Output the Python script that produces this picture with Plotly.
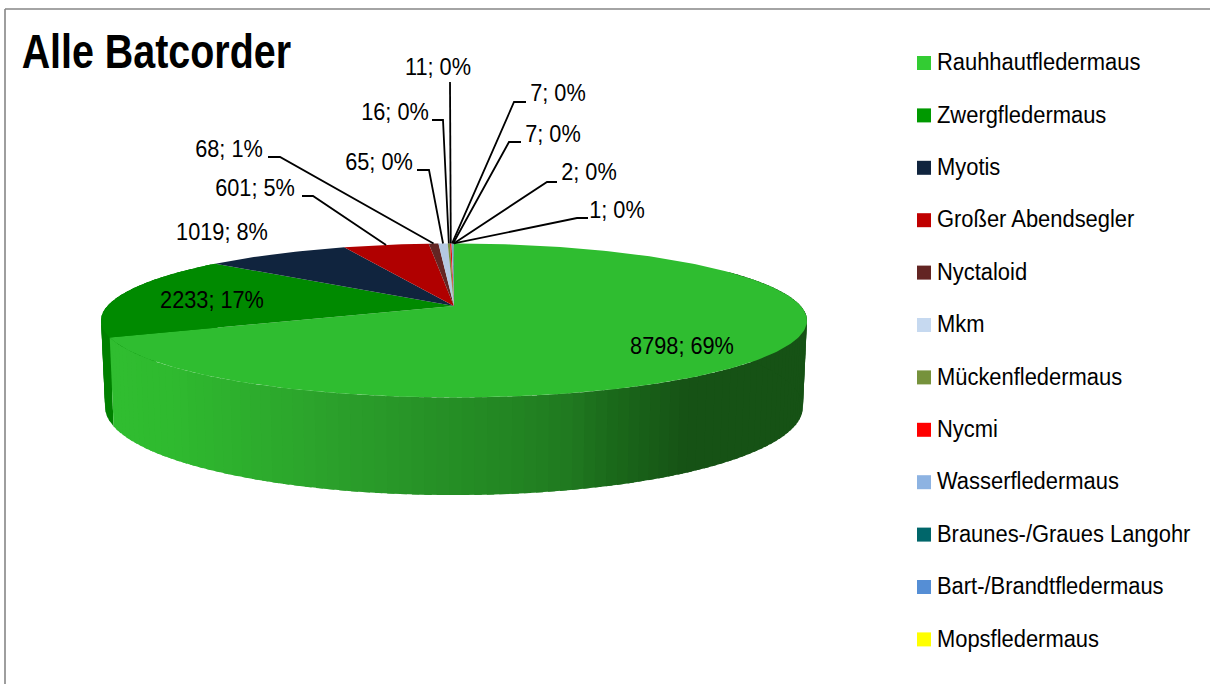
import math
import plotly.graph_objects as go

# ---- data -------------------------------------------------------------
species = ["Rauhhautfledermaus", "Zwergfledermaus", "Myotis", "Großer Abendsegler",
           "Nyctaloid", "Mkm", "Mückenfledermaus", "Nycmi", "Wasserfledermaus",
           "Braunes-/Graues Langohr", "Bart-/Brandtfledermaus", "Mopsfledermaus"]
counts = [8798, 2233, 1019, 601, 68, 65, 16, 11, 7, 7, 2, 1]
percent_labels = [69, 17, 8, 5, 1, 0, 0, 0, 0, 0, 0, 0]
top_colors = ["#2FBD30", "#008A00", "#10243E", "#B00000", "#632523", "#B4C8E2",
              "#76923C", "#E81010", "#8DB3E2", "#00666A", "#558ED5", "#FFFF00"]
legend_colors = ["#33CC33", "#009900", "#10243E", "#C00000", "#632523", "#C6D9F0",
                 "#76923C", "#FF0000", "#8DB3E2", "#00666A", "#558ED5", "#FFFF00"]
title_text = "Alle Batcorder"

# ---- layout constants (pixel space of the chart) ----------------------
W, H = 1210, 684
FONT = "Liberation Sans"
LABEL_SIZE = 24.5
APEX_X = 454
TOP = dict(y0=306, A=74.3, B=346.7, p=0.188)
BOTTOM = dict(y0=390.5, A=84.9, B=342.7, p=0.188)
LEGEND_X, LEGEND_Y0, LEGEND_STEP = 924, 63, 52.4
LEGEND_TEXT_X = 937
TEXT_DY = 2
LEGEND_TEXT_DY = 1
# placement of each data label: centre x, centre y
label_pos = [(682, 346), (212, 300), (222, 232), (255, 188), (229, 149), (379, 162),
             (395, 112), (438, 67), (558, 93), (553, 134), (589, 172), (617, 210)]
# leader lines for the small slices: elbow and end (None = no leader)
leader = [None, None, None,
          ((313, 196), (302, 196)), ((280, 157), (268, 157)), ((429, 170), (417, 170)),
          ((443, 120), (432, 120)), ((450, 82), (450, 82)), ((514, 102), (526, 102)),
          ((509, 142), (521, 142)), ((547, 182), (557, 182)), ((577, 218), (588, 218))]
# side shading of the large slice, pixel x -> colour
side_stops = [(100, (48, 190, 48)), (170, (47, 186, 47)), (300, (44, 166, 44)),
              (400, (40, 150, 40)), (500, (35, 136, 35)), (570, (32, 122, 32)),
              (620, (26, 104, 26)), (690, (22, 82, 21)), (810, (22, 82, 21))]


def project(theta_deg, d):
    t = math.radians(theta_deg)
    u, v = math.sin(t), math.cos(t)
    w = 1 + d["p"] * v
    return APEX_X + d["B"] * u / w, d["y0"] - d["A"] * v / w


def side_colour(x):
    for (x0, c0), (x1, c1) in zip(side_stops, side_stops[1:]):
        if x <= x1:
            f = max(0, (x - x0) / (x1 - x0))
            return "rgb(%d,%d,%d)" % tuple(round(a + (b - a) * f) for a, b in zip(c0, c1))
    return "rgb(%d,%d,%d)" % side_stops[-1][1]


total = sum(counts)
edges = [0.0]
for c in counts:
    edges.append(edges[-1] + 360.0 * c / total)

fig = go.Figure()


def add_poly(xs, ys, colour, name):
    fig.add_trace(go.Scatter(x=xs, y=ys, mode="lines", fill="toself", fillcolor=colour,
                             line=dict(width=0, color=colour), name=name,
                             hoverinfo="name", showlegend=False))


def arc(a, b, d, n):
    return [project(a + (b - a) * i / n, d) for i in range(n + 1)]


def rim_strip(a, b, colour, name):
    ring = [project(a, TOP), project(b, TOP), project(b, BOTTOM), project(a, BOTTOM)]
    add_poly([p[0] for p in ring], [p[1] for p in ring], colour, name)


# side of the second slice (left sliver)
for i in range(24):
    a = edges[1] + (edges[2] - edges[1]) * i / 24
    b = edges[1] + (edges[2] - edges[1]) * (i + 1.6) / 24
    rim_strip(a, min(b, edges[2]), "#008000", species[1])

# side of the big slice: shaded strips along the visible rim
STRIPS = 110
start = 60.0
for i in range(STRIPS):
    a = edges[1] - (edges[1] - start) * i / STRIPS
    b = max(edges[1] - (edges[1] - start) * (i + 1.6) / STRIPS, start)
    mid = (project(a, TOP)[0] + project(b, TOP)[0]) / 2
    rim_strip(a, b, side_colour(mid), species[0])

# top faces
for i, name in enumerate(species):
    span = edges[i + 1] - edges[i]
    pts = [project(0, dict(TOP, A=0, B=0))] + arc(edges[i], edges[i + 1], TOP, max(2, int(span)))
    add_poly([p[0] for p in pts], [p[1] for p in pts], top_colors[i], name)

# leaders
for i, item in enumerate(leader):
    if item is None:
        continue
    s = project((edges[i] + edges[i + 1]) / 2, TOP)
    elbow, end = item
    fig.add_trace(go.Scatter(x=[s[0], elbow[0], end[0]], y=[s[1], elbow[1], end[1]], mode="lines",
                             line=dict(color="#000000", width=1.8), hoverinfo="skip", showlegend=False))

# data labels
fig.add_trace(go.Scatter(
    x=[p[0] for p in label_pos], y=[p[1] + TEXT_DY for p in label_pos], mode="text",
    text=[f"{c}; {q}%" for c, q in zip(counts, percent_labels)], textposition="middle center",
    textfont=dict(family=FONT, size=LABEL_SIZE, color="#000000"), hoverinfo="skip", showlegend=False))

# legend column
legend_ys = [LEGEND_Y0 + i * LEGEND_STEP for i in range(len(species))]
fig.add_trace(go.Scatter(
    x=[LEGEND_X] * len(species), y=legend_ys, mode="markers",
    marker=dict(symbol="square", size=14, color=legend_colors), hoverinfo="skip", showlegend=False))
fig.add_trace(go.Scatter(
    x=[LEGEND_TEXT_X] * len(species), y=[v + LEGEND_TEXT_DY for v in legend_ys], mode="text", text=species,
    textposition="middle right",
    textfont=dict(family=FONT, size=LABEL_SIZE, color="#000000"), hoverinfo="skip", showlegend=False))

fig.update_layout(
    width=W, height=H, margin=dict(l=0, r=0, t=0, b=0), paper_bgcolor="#ffffff", plot_bgcolor="#ffffff",
    showlegend=False,
    xaxis=dict(range=[0, W], visible=False, fixedrange=True),
    yaxis=dict(range=[H, 0], visible=False, fixedrange=True),
    annotations=[dict(text=f"<b>{title_text}</b>", x=156.5, y=51, xref="x", yref="y", xanchor="center",
                      yanchor="middle", showarrow=False,
                      font=dict(family=FONT, size=47.5, color="#000000"))],
    shapes=[dict(type="line", x0=5, x1=5, y0=9, y1=H, xref="x", yref="y", line=dict(color="#868686", width=1.6)),
            dict(type="line", x0=5, x1=W, y0=9, y1=9, xref="x", yref="y", line=dict(color="#868686", width=1.6))],
)
# the reference's type is horizontally condensed; no narrow face is installed, so condense the real text
post = """
document.body.style.margin='0';document.body.style.overflow='hidden';
document.querySelectorAll('svg text').forEach(function(t){
  if(!t.textContent) return;
  var s = t.textContent;
  var k = s.indexOf('Batcorder')>=0 ? 0.83 : (s.indexOf(';')>=0 ? 0.887 : 0.895);
  var b = t.getBBox();
  var start = t.getAttribute('text-anchor')==='start' || getComputedStyle(t).textAnchor==='start';
  var cx = start ? b.x : b.x + b.width/2;
  var old = t.getAttribute('transform') || '';
  t.setAttribute('transform', old+' translate('+cx+',0) scale('+k+',1) translate('+(-cx)+',0)');
});
"""
fig.write_html("out.html", post_script=post, config={"displayModeBar": False})
